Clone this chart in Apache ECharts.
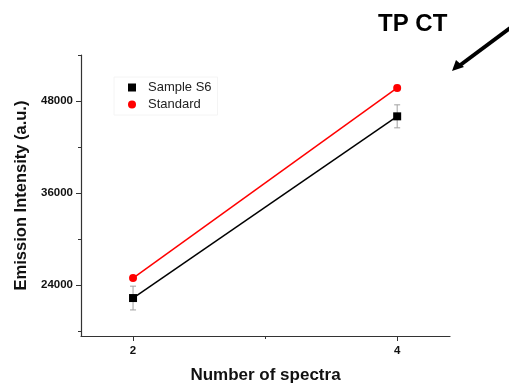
<!DOCTYPE html>
<html><head><meta charset="utf-8">
<script src="https://cdn.jsdelivr.net/npm/echarts@6/dist/echarts.min.js"></script>
<style>html,body{margin:0;padding:0;background:#fff}#c{width:509px;height:390px}</style>
</head><body><div id="c"></div>
<script>
var xValues = [2, 4];
var sampleS6 = [22300, 46000];
var sampleS6Err = [1550, 1500];
var standard = [24900, 49700];
var standardErr = [300, 350];
var yMajorTicks = [24000, 36000, 48000];
var yMinorTicks = [18000, 30000, 42000, 54000];
var xMajorTicks = [2, 4];
var xMinorTicks = [3];

var F = 'Liberation Sans, Arial, sans-serif';
var chart = echarts.init(document.getElementById('c'));

function pts(vals){ return xValues.map(function(x,i){ return [x, vals[i]]; }); }
function errData(vals, errs){ return xValues.map(function(x,i){ return [x, vals[i]-errs[i], vals[i]+errs[i]]; }); }
function errSeries(vals, errs){
  return {
    type: 'custom', silent: true, z: 1,
    data: errData(vals, errs),
    renderItem: function(params, api){
      var x = api.value(0);
      var lo = api.coord([x, api.value(1)]);
      var hi = api.coord([x, api.value(2)]);
      var w = 3;
      var st = {stroke: '#a0a0a0', lineWidth: 1};
      return {type: 'group', children: [
        {type: 'line', shape: {x1: lo[0], y1: lo[1], x2: hi[0], y2: hi[1]}, style: st},
        {type: 'line', shape: {x1: lo[0]-w, y1: lo[1], x2: lo[0]+w, y2: lo[1]}, style: st},
        {type: 'line', shape: {x1: hi[0]-w, y1: hi[1], x2: hi[0]+w, y2: hi[1]}, style: st}
      ]};
    }
  };
}

var yMin = 17350, yMax = 54000, xMin = 1.606, xMax = 4.4;
var axisLineStyle = {color: '#333', width: 1.2};
function plain(v){ return String(Math.round(v)); }

chart.setOption({
  animation: false,
  backgroundColor: '#fff',
  title: {text: 'TP CT', left: 373, top: 7, textStyle: {fontFamily: F, fontWeight: 'bold', fontSize: 24, color: '#000'}},
  legend: {
    orient: 'vertical', left: 114, top: 77, itemWidth: 8, itemHeight: 8, itemGap: 4,
    padding: [4, 6, 4, 14],
    borderColor: '#f4f4f4', borderWidth: 1,
    textStyle: {fontFamily: F, fontSize: 13, color: '#222', padding: [0, 0, 0, 7]},
    data: [{name: 'Sample S6', icon: 'rect'}, {name: 'Standard', icon: 'circle'}]
  },
  grid: {left: 81, top: 55, right: 59, bottom: 54, containLabel: false},
  xAxis: [{
    type: 'value', min: xMin, max: xMax,
    name: 'Number of spectra', nameLocation: 'middle', nameGap: 31,
    nameTextStyle: {fontFamily: F, fontWeight: 'bold', fontSize: 17, color: '#111'},
    axisLine: {show: true, lineStyle: axisLineStyle},
    axisTick: {show: true, customValues: xMajorTicks, length: 5, lineStyle: {color: '#333'}},
    axisLabel: {customValues: xMajorTicks, formatter: plain, fontFamily: F, fontWeight: 'bold', fontSize: 11.5, color: '#111', margin: 9},
    splitLine: {show: false}
  }, {
    type: 'value', min: xMin, max: xMax, position: 'bottom',
    axisLine: {show: false},
    axisTick: {show: true, customValues: xMinorTicks, length: 3, lineStyle: {color: '#333'}},
    axisLabel: {show: false}, splitLine: {show: false}
  }],
  yAxis: [{
    type: 'value', min: yMin, max: yMax,
    name: 'Emission Intensity (a.u.)', nameLocation: 'middle', nameGap: 50,
    nameTextStyle: {fontFamily: F, fontWeight: 'bold', fontSize: 16.5, color: '#111'},
    axisLine: {show: true, lineStyle: axisLineStyle},
    axisTick: {show: true, customValues: yMajorTicks, length: 5, lineStyle: {color: '#333'}},
    axisLabel: {customValues: yMajorTicks, formatter: plain, fontFamily: F, fontWeight: 'bold', fontSize: 11.5, color: '#111', margin: 8},
    splitLine: {show: false}
  }, {
    type: 'value', min: yMin, max: yMax, position: 'left',
    axisLine: {show: false},
    axisTick: {show: true, customValues: yMinorTicks, length: 3, lineStyle: {color: '#333'}},
    axisLabel: {show: false}, splitLine: {show: false}
  }],
  graphic: [
    {type: 'line', shape: {x1: 510, y1: 28, x2: 459, y2: 66}, style: {stroke: '#000', lineWidth: 4}, z: 10},
    {type: 'polygon', shape: {points: [[452, 71], [456, 60], [464, 67]]}, style: {fill: '#000'}, z: 10}
  ],
  series: [
    errSeries(sampleS6, sampleS6Err),
    errSeries(standard, standardErr),
    {name: 'Sample S6', type: 'line', data: pts(sampleS6), symbol: 'rect', symbolSize: 8,
     itemStyle: {color: '#000'}, lineStyle: {color: '#000', width: 1.5}, z: 3},
    {name: 'Standard', type: 'line', data: pts(standard), symbol: 'circle', symbolSize: 8,
     itemStyle: {color: '#ff0000'}, lineStyle: {color: '#ff0000', width: 1.5}, z: 3}
  ]
});
</script></body></html>
